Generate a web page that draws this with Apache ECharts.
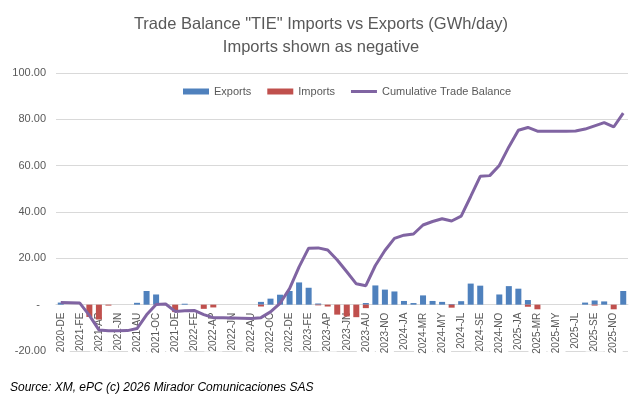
<!DOCTYPE html>
<html>
<head>
<meta charset="utf-8">
<script src="https://cdn.jsdelivr.net/npm/echarts@6/dist/echarts.min.js"></script>
<style>
  html, body { margin: 0; padding: 0; background: #fff; }
  #chart { width: 642px; height: 397px; }
</style>
</head>
<body>
<div id="chart"></div>
<script>
// meses (falta un mes en 2023, como en el original)
var categories = [
  '2020-DE', '2021-JA', '2021-FE', '2021-MR', '2021-AP', '2021-MY', '2021-JN', '2021-JL', '2021-AU', '2021-SE',
  '2021-OC', '2021-NO', '2021-DE', '2022-JA', '2022-FE', '2022-MR', '2022-AP', '2022-MY', '2022-JN', '2022-JL',
  '2022-AU', '2022-SE', '2022-OC', '2022-NO', '2022-DE', '2023-JA', '2023-FE', '2023-MR', '2023-AP', '2023-MY',
  '2023-JN', '2023-JL', '2023-AU', '2023-OC', '2023-NO', '2023-DE', '2024-JA', '2024-FE', '2024-MR', '2024-AP',
  '2024-MY', '2024-JN', '2024-JL', '2024-AU', '2024-SE', '2024-OC', '2024-NO', '2024-DE', '2025-JA', '2025-FE',
  '2025-MR', '2025-AP', '2025-MY', '2025-JN', '2025-JL', '2025-AU', '2025-SE', '2025-OC', '2025-NO', '2025-DE'
]
var exportsData = [
  0.9, 0, 0, 0, 0, 0, 0, 0, 0.8, 5.9,
  4.4, 0, 0, 0.4, 0, 0, 0, 0, 0, 0,
  0, 1.2, 2.6, 4.3, 5.9, 9.6, 7.3, 0.5, 0, 0,
  0, 0, 0.7, 8.3, 6.5, 5.7, 1.6, 0.7, 4.0, 1.6,
  1.2, 0.3, 1.5, 9.1, 8.2, 0, 4.4, 8.0, 6.9, 2.0,
  0, 0, 0, 0, 0, 0.9, 1.8, 1.4, 0, 5.9
]
var importsData = [
  0, 0, 0, -5.3, -6.4, -0.4, 0, 0, 0, 0,
  0, 0, -3.2, 0, 0, -1.8, -1.2, 0, 0, 0,
  0, -0.8, 0, 0, 0, 0, 0, -0.3, -0.8, -4.3,
  -5.1, -5.4, -1.5, 0, 0, 0, 0, 0, 0, 0,
  0, -1.3, 0, 0, 0, 0, 0, 0, 0, -0.9,
  -2.0, 0, 0, 0, 0, 0, -0.4, 0, -2.0, 0
]
var balanceData = [
  0.9, 0.8, 0.7, -4.6, -10.9, -11.3, -11.3, -11.2, -10.3, -4.4,
  0.1, 0.3, -2.9, -2.6, -2.5, -4.3, -5.6, -5.7, -5.8, -5.9,
  -6.0, -5.6, -3.1, 0.6, 6.9, 16.3, 24.4, 24.5, 23.6, 19.3,
  14.2, 9.0, 8.2, 16.9, 23.4, 28.6, 30.0, 30.5, 34.4, 35.9,
  37.1, 36.1, 38.2, 46.7, 55.4, 55.7, 60.1, 68.1, 75.3, 76.5,
  74.9, 74.9, 74.9, 74.9, 75.0, 75.8, 77.2, 78.6, 76.7, 82.7
]

var chart = echarts.init(document.getElementById('chart'))
var font = 'Liberation Sans, Arial, sans-serif'

// eje x en el cero: desplazar desde el borde inferior (-20) hasta 0
var gridBottom = 46
var plotHeight = 397 - 73 - gridBottom
var zeroOffset = -plotHeight * 20 / 120

chart.setOption({
  animation: false,
  textStyle: { fontFamily: font },
  title: {
    text: 'Trade Balance "TIE" Imports vs Exports (GWh/day)\nImports shown as negative',
    left: 'center',
    top: 8,
    textStyle: {
      fontSize: 16.5,
      fontWeight: 'normal',
      color: '#595959',
      lineHeight: 23,
      fontFamily: font
    }
  },
  legend: {
    left: 178,
    top: 81,
    itemWidth: 26,
    itemHeight: 6,
    itemGap: 16,
    textStyle: { fontSize: 11, color: '#595959', fontFamily: font },
    data: [
      { name: 'Exports', icon: 'rect' },
      { name: 'Imports', icon: 'rect' },
      { name: 'Cumulative Trade Balance', icon: 'path://M0,0 L26,0 L26,3 L0,3 Z' }
    ]
  },
  grid: {
    left: 56,
    right: 14,
    top: 73,
    bottom: gridBottom,
    outerBoundsMode: 'none'
  },
  xAxis: {
    type: 'category',
    data: categories,
    offset: zeroOffset,
    axisLine: { onZero: false, lineStyle: { color: '#d9d9d9' } },
    axisTick: { show: false },
    axisLabel: {
      interval: 1,
      rotate: 90,
      fontSize: 10,
      color: '#595959',
      margin: 8,
      backgroundColor: '#fff',
      padding: [4, 0]
    }
  },
  yAxis: {
    type: 'value',
    min: -20,
    max: 100,
    interval: 20,
    axisLine: { show: false },
    axisTick: { show: false },
    splitLine: { lineStyle: { color: '#d9d9d9' } },
    axisLabel: {
      fontSize: 11,
      color: '#595959',
      margin: 10,
      formatter: function(v) {
        if (v === 0) {
          return '-  '
        }
        return v.toFixed(2)
      }
    }
  },
  series: [
    {
      name: 'Exports',
      type: 'bar',
      data: exportsData,
      barWidth: 6,
      barGap: '-100%',
      itemStyle: { color: '#4F81BD' },
      z: 4
    },
    {
      name: 'Imports',
      type: 'bar',
      data: importsData,
      barWidth: 6,
      barGap: '-100%',
      itemStyle: { color: '#C0504D' },
      z: 4
    },
    {
      name: 'Cumulative Trade Balance',
      type: 'line',
      data: balanceData,
      symbol: 'none',
      lineStyle: { color: '#8064A2', width: 3 },
      itemStyle: { color: '#8064A2' },
      z: 5
    }
  ],
  graphic: [
    {
      type: 'text',
      left: 10,
      top: 382,
      style: {
        text: 'Source: XM, ePC (c) 2026 Mirador Comunicaciones SAS',
        font: 'italic 12px ' + font,
        fill: '#000'
      }
    }
  ]
})
</script>
</body>
</html>
